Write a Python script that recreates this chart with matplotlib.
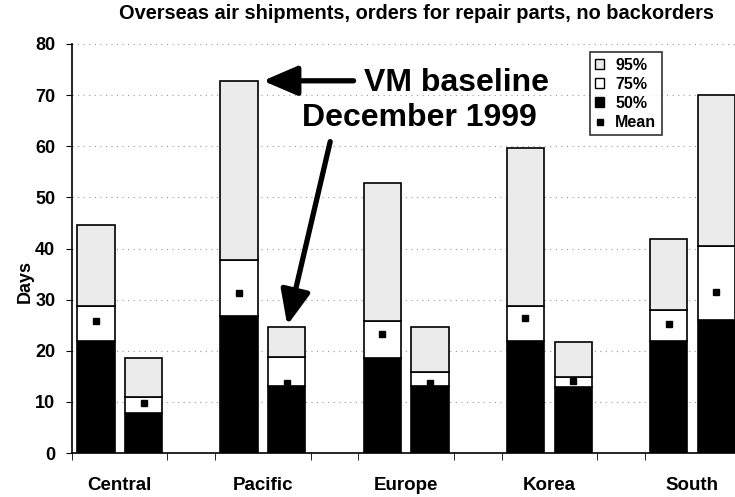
import matplotlib
matplotlib.use("Agg")
import matplotlib.pyplot as plt
from matplotlib.patches import Patch
from matplotlib.lines import Line2D
import numpy as np

plt.rcParams["font.family"] = ["Liberation Sans", "DejaVu Sans"]
plt.rcParams["font.weight"] = "bold"

# two bars per region (baseline, December 1999)
categories = ["Central", "Pacific", "Europe", "Korea", "South"]
p50 = [21.9, 7.8, 26.8, 13.1, 18.6, 13.1, 21.9, 12.9, 21.9, 26.0]
p75 = [28.8, 11.0, 37.8, 18.8, 25.8, 15.9, 28.8, 14.9, 28.0, 40.5]
p95 = [44.6, 18.6, 72.8, 24.7, 52.8, 24.7, 59.7, 21.7, 41.9, 70.0]
mean = [25.8, 9.8, 31.3, 13.7, 23.3, 13.7, 26.4, 14.1, 25.2, 31.5]
yticks = [0, 10, 20, 30, 40, 50, 60, 70, 80]

# slot layout: 14 slots, gap slot after each pair
slots = np.array([0, 1, 3, 4, 6, 7, 9, 10, 12, 13])
cat_pos = np.array([0.5, 3.5, 6.5, 9.5, 12.5])
p50a, p75a, p95a = np.array(p50), np.array(p75), np.array(p95)

fig = plt.figure(figsize=(7.35, 4.97), dpi=100)
ax = fig.add_axes([0.098, 0.0885, 0.909, 0.823])

w = 0.78
light = "#ebebeb"
ax.bar(slots, p50a, w, color="black", edgecolor="black", lw=1.2, zorder=3)
ax.bar(slots, p75a - p50a, w, bottom=p50a, color="white", edgecolor="black", lw=1.2, zorder=3)
ax.bar(slots, p95a - p75a, w, bottom=p75a, color=light, edgecolor="black", lw=1.2, zorder=3)
ax.plot(slots, mean, "s", color="black", ms=5, zorder=4)

ax.set_xlim(-0.5, 13.5)
ax.set_ylim(0, 80)
ax.set_yticks(yticks)
ax.tick_params(axis="y", labelsize=13, length=4, pad=8)
ax.set_xticks(cat_pos)
ax.set_xticklabels(categories, fontsize=13.5, fontweight="bold")
ax.set_xticks(np.arange(-0.5, 14, 1), minor=True)
ax.tick_params(axis="x", which="major", length=0, pad=17)
ax.tick_params(axis="x", which="minor", length=5)
for s in ["top", "right"]:
    ax.spines[s].set_visible(False)
for s in ["left", "bottom"]:
    ax.spines[s].set_linewidth(1.2)
ax.grid(axis="y", color="#999999", ls=(0, (1, 4)), lw=0.8, zorder=0)
ax.set_ylabel("Days", fontsize=13, fontweight="bold")
ax.yaxis.set_label_coords(-0.057, 0.42)

fig.text(0.567, 0.972, "Overseas air shipments, orders for repair parts, no backorders",
         ha="center", va="center", fontsize=14.4, fontweight="bold")

# annotations
arrow = dict(arrowstyle="-|>,head_length=1.4,head_width=0.6", lw=3.8,
             color="black", mutation_scale=15, shrinkA=0, shrinkB=0)
ax.annotate("", xy=(3.5, 72.8), xytext=(5.4, 72.8), arrowprops=arrow)
ax.text(5.62, 72.4, "VM baseline", fontsize=23, fontweight="bold", ha="left", va="center")
ax.text(4.32, 65.5, "December 1999", fontsize=23, fontweight="bold", ha="left", va="center")
ax.annotate("", xy=(4.01, 25.0), xytext=(4.91, 60.9), arrowprops=arrow)

handles = [Patch(facecolor=light, edgecolor="black", lw=1),
           Patch(facecolor="white", edgecolor="black", lw=1),
           Patch(facecolor="black", edgecolor="black", lw=1),
           Line2D([], [], marker="s", color="black", ls="none", ms=4)]
leg = ax.legend(handles, ["95%", "75%", "50%", "Mean"], loc="upper right",
                bbox_to_anchor=(0.883, 0.98), fontsize=11.5, frameon=True, fancybox=False,
                handlelength=0.55, handleheight=0.55, handletextpad=0.7,
                labelspacing=0.25, borderpad=0.35, borderaxespad=0)
leg.get_frame().set_edgecolor("black")
leg.get_frame().set_linewidth(1.2)

fig.savefig("out.png", dpi=100)
